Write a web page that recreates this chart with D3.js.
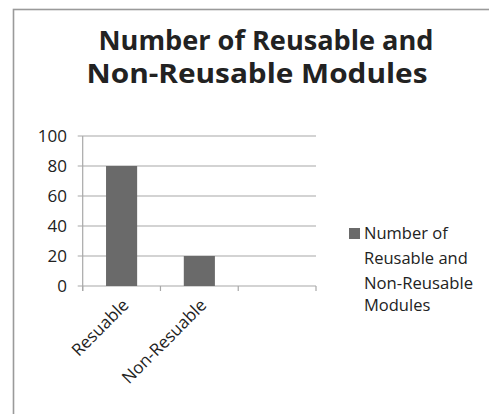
<!DOCTYPE html>
<html>
<head>
<meta charset="utf-8">
<script src="https://cdn.jsdelivr.net/npm/d3@7/dist/d3.min.js"></script>
<style>
  html, body { margin: 0; padding: 0; background: #fff; }
  svg { display: block; }
  text { font-family: "Open Sans", "Noto Sans", sans-serif; fill: #222; }
</style>
</head>
<body>
<div id="chart"></div>
<script>
// Module counts by reuse category (third slot left empty)
const categories = ["Resuable", "Non-Resuable", ""];
const moduleCounts = [80, 20, null];
const yTicks = [0, 20, 40, 60, 80, 100];
const titleLines = ["Number of Reusable and", "Non-Reusable Modules"];
const legendLines = ["Number of", "Reusable and", "Non-Reusable", "Modules"];

const W = 489, H = 414;
const svg = d3.select("#chart").append("svg")
  .attr("width", W).attr("height", H);

// outer chart frame
svg.append("rect")
  .attr("x", 13.5).attr("y", 9.5)
  .attr("width", 600).attr("height", 600)
  .attr("fill", "#fff")
  .attr("stroke", "#9a9a9a").attr("stroke-width", 1.6);

// title, condensed to the frame's title block
const titleCenters = [266, 257], titleBase = [50, 83], titleWidths = [335, 341];
titleLines.forEach((t, i) => {
  svg.append("text")
    .attr("x", titleCenters[i]).attr("y", titleBase[i])
    .attr("text-anchor", "middle")
    .attr("font-size", 26).attr("font-weight", "bold")
    .attr("fill", "#111")
    .attr("textLength", titleWidths[i])
    .attr("lengthAdjust", "spacingAndGlyphs")
    .text(t);
});

const plot = { left: 82.7, right: 316, top: 136, bottom: 286 };

const x = d3.scaleBand()
  .domain(categories.map((c, i) => i))
  .range([plot.left, plot.right])
  .paddingInner(0.6).paddingOuter(0.3);

const y = d3.scaleLinear().domain([0, 100]).range([plot.bottom, plot.top]);

// horizontal gridlines
svg.append("g")
  .selectAll("line")
  .data(yTicks)
  .join("line")
  .attr("x1", plot.left - 5).attr("x2", plot.right)
  .attr("y1", d => y(d)).attr("y2", d => y(d))
  .attr("stroke", "#a8a8a8").attr("stroke-width", 1.2);

// y axis line
svg.append("line")
  .attr("x1", plot.left).attr("x2", plot.left)
  .attr("y1", y(100)).attr("y2", plot.bottom + 5)
  .attr("stroke", "#a8a8a8").attr("stroke-width", 1.2);

// category boundary ticks
const step = (plot.right - plot.left) / categories.length;
svg.append("g")
  .selectAll("line")
  .data(d3.range(categories.length + 1))
  .join("line")
  .attr("x1", i => plot.left + i * step).attr("x2", i => plot.left + i * step)
  .attr("y1", plot.bottom).attr("y2", plot.bottom + 5)
  .attr("stroke", "#a8a8a8").attr("stroke-width", 1.2);

// y tick labels
svg.append("g")
  .selectAll("text")
  .data(yTicks)
  .join("text")
  .attr("x", 67).attr("y", d => y(d))
  .attr("dy", "0.36em")
  .attr("text-anchor", "end")
  .attr("font-size", 17)
  .attr("fill", "#333")
  .text(d => d);

// bars
svg.append("g")
  .selectAll("rect")
  .data(moduleCounts.map((v, i) => ({ v, i })).filter(d => d.v != null))
  .join("rect")
  .attr("x", d => x(d.i)).attr("width", x.bandwidth())
  .attr("y", d => y(d.v)).attr("height", d => y(0) - y(d.v))
  .attr("fill", "#6a6a6a");

// rotated category labels
svg.append("g")
  .selectAll("text")
  .data(categories.map((c, i) => ({ c, i })).filter(d => d.c))
  .join("text")
  .attr("transform", d => `translate(${x(d.i) + x.bandwidth() / 2 + 4},${plot.bottom + 16}) rotate(-45)`)
  .attr("text-anchor", "end")
  .attr("dy", "0.35em")
  .attr("font-size", 17)
  .attr("fill", "#333")
  .text(d => d.c);

// legend
svg.append("rect")
  .attr("x", 349).attr("y", 228)
  .attr("width", 11).attr("height", 11)
  .attr("fill", "#6a6a6a");
const legendBase = [239, 264, 289, 311];
legendLines.forEach((t, i) => {
  svg.append("text")
    .attr("x", 364).attr("y", legendBase[i])
    .attr("font-size", 16.5)
    .attr("fill", "#333")
    .attr("textLength", i === 2 ? 109 : null)
    .attr("lengthAdjust", "spacingAndGlyphs")
    .text(t);
});
</script>
</body>
</html>
